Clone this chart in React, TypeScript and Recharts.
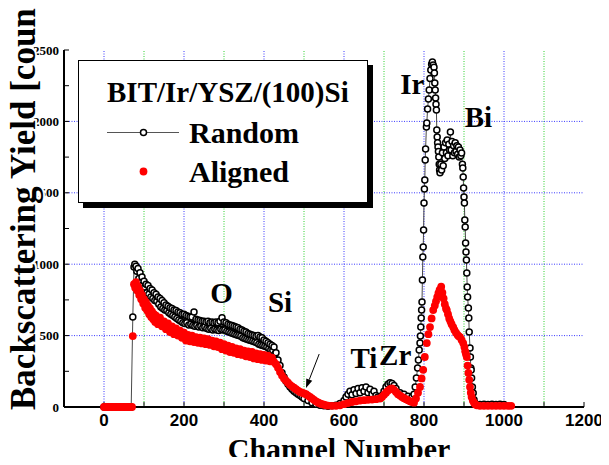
import { ComposedChart, Line, XAxis, YAxis, ReferenceLine, ReferenceDot } from 'recharts'

// [channel, counts]
const randomSpectrum: [number, number][] = [
  [0, 0], [10, 0], [20, 0], [30, 0], [40, 0], [50, 0], [60, 0], [68, 0],
  [72, 630],
  [75, 980], [77, 1000], [80, 985], [82, 950], [85, 970], [87, 900], [90, 940], [92, 870], [95, 910], [97, 855],
  [100, 880], [102, 840], [105, 860], [107, 800], [110, 850], [112, 790], [115, 830], [117, 770], [120, 820],
  [122, 760], [125, 800], [127, 745], [130, 790], [132, 740], [135, 770], [137, 720], [140, 760], [142, 700],
  [145, 745], [147, 690], [150, 730], [152, 680], [155, 715], [157, 675], [160, 705], [162, 660], [165, 695],
  [167, 650], [170, 690], [172, 640], [175, 680], [177, 630], [180, 675], [182, 620], [185, 665], [187, 610],
  [190, 660], [192, 600], [195, 650], [197, 590], [200, 650], [202, 585], [205, 640], [207, 590], [210, 635],
  [212, 575], [215, 630], [217, 580], [220, 630], [222, 570], [225, 665], [227, 565], [230, 615], [232, 570],
  [235, 610], [237, 560], [240, 605], [242, 565], [245, 600], [247, 555], [250, 600], [252, 560], [255, 595],
  [257, 550], [260, 600], [262, 545], [265, 590], [267, 550], [270, 595], [272, 540], [275, 590], [277, 545],
  [280, 595], [282, 540], [285, 590], [287, 535], [290, 600], [292, 545], [295, 625], [297, 540], [300, 595],
  [302, 540], [305, 590], [307, 530], [310, 580], [312, 525], [315, 575], [317, 520], [320, 570], [322, 515],
  [325, 565], [327, 510], [330, 560], [332, 505], [335, 555], [337, 500], [340, 545], [342, 495], [345, 540],
  [347, 485], [350, 530], [352, 480], [355, 525], [357, 475], [360, 515], [362, 470], [365, 510], [367, 465],
  [370, 505], [372, 460], [375, 500], [377, 455], [380, 495], [382, 450], [385, 500], [387, 440], [390, 490],
  [392, 435], [395, 485], [397, 430], [400, 470], [402, 425], [405, 460], [407, 420], [410, 450], [412, 410],
  [415, 440], [417, 400], [420, 430], [422, 395], [425, 420], [427, 370],
  [430, 380], [435, 330], [440, 290], [445, 240], [450, 210],
  [455, 180], [460, 160], [465, 140], [470, 125], [475, 110], [480, 100], [485, 90], [490, 80], [495, 70],
  [500, 60], [510, 45], [520, 30], [530, 20], [540, 12], [550, 8], [560, 5], [570, 8], [580, 12], [590, 25],
  [600, 45], [605, 70], [610, 90], [615, 110], [620, 85], [625, 120], [630, 95], [635, 130], [640, 100],
  [645, 135], [650, 110], [655, 140], [660, 100], [665, 125], [670, 90], [675, 110], [680, 80], [685, 70],
  [690, 60], [695, 80], [700, 110], [705, 140], [710, 160], [715, 170], [720, 165], [725, 150], [730, 130],
  [740, 100], [750, 90], [760, 75], [770, 70], [775, 90], [778, 140], [781, 203], [784, 273], [786, 329],
  [788, 399], [790, 448], [791, 497], [792, 560], [793, 623], [794, 679], [795, 735], [796, 889], [797, 1050],
  [798, 1120], [799, 1240], [800, 1428], [801, 1526], [802, 1590], [803, 1730], [804, 1807], [806, 1960],
  [807, 1989], [809, 2087], [811, 2157], [813, 2220], [815, 2300], [817, 2360], [819, 2400], [821, 2416],
  [823, 2395], [825, 2380], [826, 2339], [827, 2269], [828, 2220], [829, 2164], [830, 2120], [831, 2080],
  [832, 1940], [833, 1891], [834, 1850], [835, 1820], [836, 1790], [837, 1750], [838, 1700], [839, 1660],
  [840, 1640], [842, 1700], [844, 1660], [846, 1780], [848, 1690], [850, 1820], [852, 1740], [854, 1850],
  [856, 1780], [858, 1870], [860, 1760], [862, 1840], [864, 1800], [866, 1926], [868, 1800], [870, 1860],
  [872, 1760], [874, 1830], [876, 1780], [878, 1850], [880, 1790], [882, 1830], [884, 1770], [886, 1820],
  [888, 1750], [890, 1800], [892, 1760], [894, 1778], [896, 1700], [897, 1674], [898, 1610], [899, 1533],
  [900, 1470], [901, 1428], [902, 1309], [903, 1260], [904, 1148], [905, 1085], [906, 1029], [907, 938],
  [908, 840], [909, 770], [911, 693], [912, 623], [913, 525], [915, 413], [916, 350], [917, 273], [918, 259],
  [919, 203], [921, 140], [923, 98], [925, 50], [927, 28], [930, 20], [940, 18], [950, 20], [960, 18],
  [970, 20], [980, 18], [990, 20], [1000, 18],
]

const alignedSpectrum: [number, number][] = [
  [0, 0], [5, 0], [10, 0], [15, 0], [20, 0], [25, 0], [30, 0], [35, 0], [40, 0], [45, 0], [50, 0], [55, 0],
  [60, 0], [65, 0], [70, 0],
  [72, 497],
  [75, 860], [78, 835], [80, 875], [83, 815], [85, 845], [88, 785], [90, 815], [93, 755], [95, 785], [98, 725],
  [100, 755], [103, 695], [105, 735], [108, 675], [110, 710], [113, 650], [115, 690], [118, 630], [120, 670],
  [123, 615], [125, 650], [128, 595], [130, 640], [135, 580], [140, 625], [145, 565], [150, 600], [155, 545],
  [160, 585], [165, 525], [170, 565], [175, 510], [180, 550], [185, 500], [190, 535], [195, 485], [200, 520],
  [205, 465], [210, 505], [215, 460], [220, 500], [225, 455], [230, 490], [235, 450], [240, 485], [245, 445],
  [250, 480], [255, 440], [260, 475], [265, 435], [270, 465], [275, 425], [280, 460], [285, 420], [290, 450],
  [295, 405], [300, 440], [305, 395], [310, 430], [315, 385], [320, 420], [325, 380], [330, 410], [335, 370],
  [340, 405], [345, 365], [350, 395], [355, 355], [360, 390], [365, 350], [370, 385], [375, 340], [380, 375],
  [385, 335], [390, 370], [395, 330], [400, 365], [405, 325], [410, 360], [415, 320], [420, 345], [425, 315],
  [430, 300], [435, 275], [440, 245], [445, 220], [450, 200], [455, 185], [460, 170], [465, 155], [470, 145],
  [475, 135], [480, 125], [485, 115], [490, 105], [495, 100], [500, 95], [505, 90], [510, 80], [515, 70],
  [520, 60], [525, 50], [530, 40], [535, 32], [540, 25], [545, 20], [550, 16], [555, 12], [560, 10], [570, 8],
  [580, 8], [590, 12], [600, 20], [610, 28], [620, 35], [630, 40], [640, 45], [650, 48], [660, 50], [670, 52],
  [680, 55], [690, 60], [695, 70], [700, 85], [705, 100], [710, 115], [715, 125], [720, 130], [725, 120],
  [730, 105], [735, 90], [740, 80], [745, 70], [750, 62], [755, 55], [760, 48], [765, 40], [770, 35], [775, 30],
  [780, 60], [785, 100], [790, 140], [794, 200], [798, 260], [802, 350], [807, 448], [811, 510], [815, 560],
  [819, 620], [823, 679], [827, 710], [830, 740], [833, 770], [836, 798], [839, 820], [843, 842], [846, 800],
  [849, 760], [852, 720], [855, 690], [857, 679], [860, 650], [863, 620], [866, 600], [869, 580], [873, 560],
  [876, 540], [880, 520], [884, 505], [887, 495], [890, 490], [894, 470], [898, 448], [901, 420], [903, 390],
  [905, 370], [907, 350], [909, 290], [911, 238], [913, 190], [915, 140], [917, 100], [919, 70], [922, 45],
  [925, 30], [928, 20], [932, 12], [940, 8], [950, 8], [960, 8], [970, 8], [980, 8], [990, 8], [1000, 8],
  [1010, 8], [1018, 8],
]

const xTicks = [0, 100, 200, 300, 400, 500, 600, 700, 800, 900, 1000, 1100, 1200]
const yTicks = [0, 250, 500, 750, 1000, 1250, 1500, 1750, 2000, 2250, 2500]
const gridX = [0, 100, 200, 300, 400, 500, 600, 700, 800, 900, 1000, 1100]
const gridY = [500, 1000, 1500, 2000]

const elementNames = ['O', 'Si', 'Ti', 'Zr', 'Ir', 'Bi']
const elementAnchors: [number, number][] = [[294, 802], [440, 737], [650, 347], [728, 364], [771, 2262], [936, 2031]]
const arrowFrom = { x: 538, y: 371 }
const arrowTo = { x: 505, y: 133 }

const legendTitle = 'BIT/Ir/YSZ/(100)Si'
const xTitle = 'Channel Number'
const yTitle = 'Backscattering Yield [counts]'

const SERIF = '"Liberation Serif", "Times New Roman", serif'
const SANS = '"Liberation Sans", Arial, sans-serif'
const BLUE = '#3a3aff'
const GREEN = '#2fd12f'
const RED = '#ff0000'

const randomData = randomSpectrum.map(([ch, counts]) => ({ ch, counts }))
const alignedData = alignedSpectrum.map(([ch, counts]) => ({ ch, counts }))

function Arrow(p: any) {
  const { x1, y1, x2, y2 } = p
  const a = Math.atan2(y2 - y1, x2 - x1)
  const len = 9
  const w = 3.2
  const bx = x2 - len * Math.cos(a)
  const by = y2 - len * Math.sin(a)
  const pts = `${x2},${y2} ${bx - w * Math.sin(a)},${by + w * Math.cos(a)} ${bx + w * Math.sin(a)},${by - w * Math.cos(a)}`
  return (
    <g>
      <line x1={x1} y1={y1} x2={bx} y2={by} stroke="#000" strokeWidth={1} />
      <polygon points={pts} fill="#000" />
    </g>
  )
}

export default function App() {
  return (
    <div style={{ margin: -8, position: 'relative', width: 609, height: 465, background: '#fff' }}>
      <ComposedChart width={609} height={465} margin={{ top: 50, right: 25, bottom: 0, left: 0 }}>
        {gridX.map((v) => (
          <ReferenceLine key={`gx${v}`} x={v} stroke={v % 200 === 0 ? BLUE : GREEN} strokeDasharray="1 1.5" strokeWidth={1} />
        ))}
        {gridY.map((v) => (
          <ReferenceLine key={`gy${v}`} y={v} stroke={BLUE} strokeDasharray="1 1.5" strokeWidth={1} />
        ))}
        <XAxis
          type="number"
          dataKey="ch"
          domain={[-100, 1200]}
          ticks={xTicks}
          height={58}
          tickSize={-5}
          tickMargin={12}
          tickFormatter={(v: number) => (v % 200 === 0 ? String(v) : '')}
          tick={{ fill: '#000', fontSize: 17, fontWeight: 'bold', fontFamily: SANS }}
          axisLine={{ stroke: '#000', strokeWidth: 2 }}
          tickLine={{ stroke: '#000' }}
        />
        <XAxis
          xAxisId="top"
          orientation="top"
          type="number"
          dataKey="ch"
          domain={[-100, 1200]}
          ticks={xTicks}
          height={0}
          tickSize={-5}
          tick={false}
          axisLine={{ stroke: '#000', strokeWidth: 1.5 }}
          tickLine={{ stroke: '#000' }}
        />
        <YAxis
          type="number"
          domain={[0, 2500]}
          ticks={yTicks}
          width={64}
          tickSize={-5}
          tickMargin={10}
          tickFormatter={(v: number) => (v % 500 === 0 ? String(v) : '')}
          tick={{ fill: '#000', fontSize: 13, fontWeight: 'bold', fontFamily: SERIF }}
          axisLine={{ stroke: '#000', strokeWidth: 2 }}
          tickLine={{ stroke: '#000' }}
        />
        <YAxis
          yAxisId="right"
          orientation="right"
          type="number"
          domain={[0, 2500]}
          ticks={yTicks}
          width={0}
          tickSize={-5}
          tick={false}
          axisLine={{ stroke: '#000', strokeWidth: 1.5 }}
          tickLine={{ stroke: '#000' }}
        />
        <Line
          data={randomData}
          dataKey="counts"
          type="linear"
          stroke="#333"
          strokeWidth={0.9}
          dot={{ r: 3, fill: '#fff', stroke: '#000', strokeWidth: 1.5 }}
          isAnimationActive={false}
        />
        <Line
          data={alignedData}
          dataKey="counts"
          type="linear"
          stroke="none"
          dot={{ r: 3.9, fill: RED, stroke: 'none' }}
          isAnimationActive={false}
        />
        <ReferenceLine segment={[arrowFrom, arrowTo]} shape={Arrow} />
        {elementNames.map((name, i) => (
          <ReferenceDot
            key={name}
            x={elementAnchors[i][0]}
            y={elementAnchors[i][1]}
            r={0}
            fill="none"
            stroke="none"
            label={{ value: name, position: 'center', fill: '#000', fontSize: 29, fontWeight: 'bold', fontFamily: SERIF }}
          />
        ))}
      </ComposedChart>

      <div
        style={{
          position: 'absolute', left: 78, top: 60, width: 288, height: 141,
          border: '1px solid #000', background: '#fff', boxShadow: '5px 5px 0 #000',
        }}
      >
        <svg width={288} height={141} style={{ display: 'block' }}>
          <text x={28} y={41} fontFamily={SERIF} fontWeight="bold" fontSize={29}>{legendTitle}</text>
          <line x1={28} y1={71.5} x2={100} y2={71.5} stroke="#555" strokeWidth={1} />
          <circle cx={64.5} cy={71.5} r={3} fill="#fff" stroke="#000" strokeWidth={1.5} />
          <text x={110} y={81.5} fontFamily={SERIF} fontWeight="bold" fontSize={30}>Random</text>
          <circle cx={64.5} cy={110.5} r={3.9} fill={RED} />
          <text x={110} y={120.5} fontFamily={SERIF} fontWeight="bold" fontSize={30}>Aligned</text>
        </svg>
      </div>

      <svg width={609} height={465} style={{ position: 'absolute', left: 0, top: 0, pointerEvents: 'none' }}>
        <text x={339} y={458.5} textAnchor="middle" fontFamily={SERIF} fontWeight="bold" fontSize={30}>{xTitle}</text>
        <text
          x={35} y={410} transform="rotate(-90 35 410)"
          fontFamily={SERIF} fontWeight="bold" fontSize={35}
          stroke="#fff" strokeWidth={4} paintOrder="stroke" strokeLinejoin="round"
        >
          {yTitle}
        </text>
      </svg>
    </div>
  )
}
